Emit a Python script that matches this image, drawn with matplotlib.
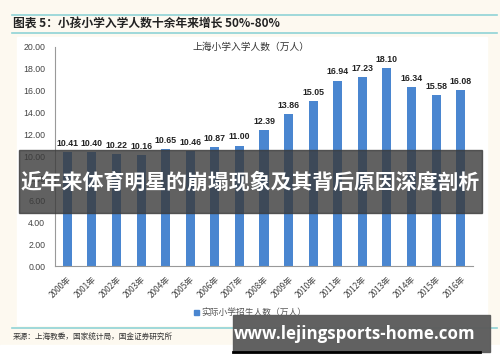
import matplotlib
matplotlib.use("Agg")
import matplotlib.pyplot as plt
from matplotlib.patches import Rectangle
from matplotlib.lines import Line2D

plt.rcParams["font.family"] = ["Liberation Sans", "Noto Sans CJK SC", "DejaVu Sans"]

years = [f"{y}年" for y in range(2000, 2017)]
enroll = [10.41, 10.40, 10.22, 10.16, 10.65, 10.46, 10.87, 11.00, 12.39,
          13.86, 15.05, 16.94, 17.23, 18.10, 16.34, 15.58, 16.08]
yticks = [0, 2, 4, 6, 8, 10, 12, 14, 16, 18, 20]

W, H = 500, 362
BLUE = "#4a86d0"
TEAL = "#8fd3d6"
CJK = ["Noto Sans CJK SC", "DejaVu Sans"]


def fx(x):
    return x / W


def fy(y):
    return 1 - y / H


fig = plt.figure(figsize=(5, 3.62), dpi=100)
fig.patch.set_facecolor("#fdf9f0")

# white chart panel
fig.patches.append(Rectangle((fx(17), fy(325)), fx(487) - fx(17), fy(37) - fy(325),
                             transform=fig.transFigure, color="white", zorder=0.1))
fig.patches.append(Rectangle((0, 0), 1, fy(345), transform=fig.transFigure,
                             color="white", zorder=0.1))

# header lines + title
for yy in (15, 33):
    fig.add_artist(Line2D([fx(12), fx(497)], [fy(yy), fy(yy)], color=TEAL, lw=1.2))
fig.text(fx(13), fy(24), "图表 5：小孩小学入学人数十余年来增长 50%-80%", fontsize=8.5,
         fontweight="bold", style="italic", color="#222222", va="center", family=CJK)

ax = fig.add_axes([fx(55), fy(266), fx(473) - fx(55), fy(47) - fy(266)])
ax.set_zorder(1)
ax.set_facecolor("none")
x = range(len(years))
ax.bar(x, enroll, width=0.37, color=BLUE, zorder=2)
for xi, v in zip(x, enroll):
    ax.annotate(f"{v:.2f}", (xi, v), xytext=(0, 3), textcoords="offset points",
                ha="center", va="bottom", fontsize=6.3, fontweight="bold", color="#222222")
ax.set_xlim(-0.5, len(years) - 0.5)
ax.set_ylim(0, 20)
ax.set_yticks(yticks)
ax.set_yticklabels([f"{t:.2f}" for t in yticks], fontsize=6.3, color="#444444")
ax.set_xticks(list(x))
ax.set_xticklabels(years, rotation=45, ha="right", rotation_mode="anchor",
                   fontsize=6, color="#444444", family=CJK)
ax.tick_params(axis="x", length=0, pad=6)
ax.tick_params(axis="y", length=0, pad=7)
for s in ("top", "right"):
    ax.spines[s].set_visible(False)
ax.spines["left"].set_color("#999999")
ax.spines["bottom"].set_color("#999999")
fig.text(fx(251), fy(47), "上海小学入学人数（万人）", fontsize=7, color="#333333",
         ha="center", va="center", family=CJK)

# legend
fig.patches.append(Rectangle((fx(194), fy(315)), fx(5), fy(310) - fy(315),
                             transform=fig.transFigure, color=BLUE, zorder=3))
fig.text(fx(201), fy(312), "实际小学招生人数（万人）", fontsize=6.3, color="#555555",
         va="center", family=CJK)

# bottom line + source
fig.add_artist(Line2D([fx(12), fx(497)], [fy(328), fy(328)], color=TEAL, lw=1.2))
fig.text(fx(13), fy(338), "来源：上海教委，国家统计局，国金证券研究所", fontsize=5.5,
         color="#333333", va="center", family=CJK)

# overlay banner
fig.patches.append(Rectangle((fx(19), fy(213)), fx(482) - fx(19), fy(150) - fy(213),
                             transform=fig.transFigure, color="#3a3a3a", alpha=0.8, zorder=5))
fig.text(fx(250), fy(182), "近年来体育明星的崩塌现象及其背后原因深度剖析", fontsize=15,
         fontweight="bold", color="white", ha="center", va="center", zorder=6, family=CJK)

# website box
fig.patches.append(Rectangle((fx(233), fy(352)), fx(490) - fx(233), fy(315) - fy(352),
                             transform=fig.transFigure, color="#5c5c5c", alpha=0.97, zorder=5))
fig.add_artist(Line2D([fx(233), fx(480)], [fy(352), fy(352)], color="black", lw=2, zorder=6))
fig.text(fx(234), fy(334), "www.lejingsports-home.com", fontsize=12.2, fontweight="bold",
         color="white", ha="left", va="center", zorder=6, family=["Open Sans", "DejaVu Sans"])

fig.savefig("out.png", dpi=100, facecolor=fig.get_facecolor())
